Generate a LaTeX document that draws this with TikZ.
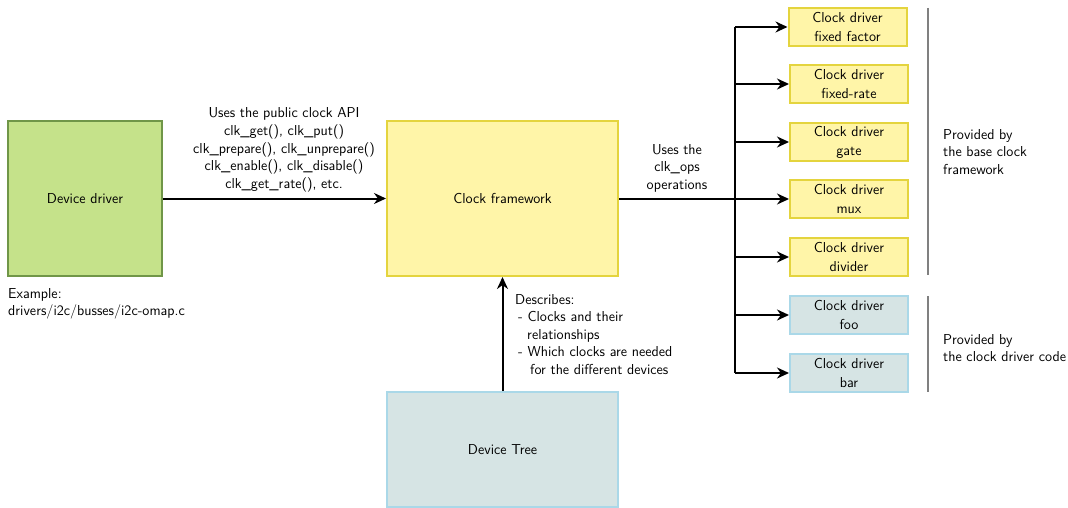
\documentclass[tikz,border=0pt]{standalone}
\usetikzlibrary{arrows.meta}
\definecolor{ddfill}{RGB}{197,226,138}
\definecolor{dddraw}{RGB}{112,150,72}
\definecolor{yfill}{RGB}{255,245,168}
\definecolor{ydraw}{RGB}{228,212,62}
\definecolor{bfill}{RGB}{214,228,228}
\definecolor{bdraw}{RGB}{170,216,232}
\definecolor{sepgray}{RGB}{128,128,128}
\begin{document}
\begin{tikzpicture}[x=1pt,y=-1pt,
  every node/.style={font=\sffamily\fontsize{14.4}{17.6}\selectfont},
  bigbox/.style={draw, line width=2pt, minimum width=154pt, minimum height=155pt, inner sep=0pt},
  cdbox/.style={draw=ydraw, fill=yfill, line width=2pt, minimum width=118pt, minimum height=38pt, inner sep=0pt, align=center, font=\sffamily\fontsize{14.4}{19}\selectfont},
  cdblue/.style={cdbox, draw=bdraw, fill=bfill},
  conn/.style={line width=2pt, -{Stealth[length=12pt,width=11pt]}},
  bus/.style={line width=2pt},
  sep/.style={draw=sepgray, line width=1.4pt},
  lbl/.style={inner sep=0pt}
]
\useasboundingbox (0,0) rectangle (1068,508);
\fill[white] (0,0) rectangle (1068,508);

\node[bigbox, draw=dddraw, fill=ddfill] (dd) at (85,198.5) {Device driver};
\node[bigbox, draw=ydraw, fill=yfill, minimum width=231pt] (cf) at (502.5,198.5) {Clock framework};
\node[bigbox, draw=bdraw, fill=bfill, minimum width=231pt, minimum height=115pt] (dt) at (502.5,449.5) {Device Tree};

\draw[conn] (dd.east) -- (cf.west);
\node[lbl, align=center] (api) at (284,150) {Uses the public clock API\\clk\_get(), clk\_put()\\clk\_prepare(), clk\_unprepare()\\clk\_enable(), clk\_disable()\\clk\_get\_rate(), etc.};

\node[lbl, anchor=north west, align=left] (ex) at (8,288) {Example:\\drivers/i2c/busses/i2c-omap.c};

\draw[conn] (dt.north) -- (cf.south);
\node[lbl, anchor=north west, align=left] (desc) at (515,294) {Describes:\\\hspace*{3pt}- Clocks and their\\\hspace*{12pt}relationships\\\hspace*{3pt}- Which clocks are needed\\\hspace*{15pt}for the different devices};

\node[cdbox] (c1) at (847.5,27) {Clock driver\\fixed factor};
\node[cdbox] (c2) at (849,84) {Clock driver\\fixed-rate};
\node[cdbox] (c3) at (849,142) {Clock driver\\gate};
\node[cdbox] (c4) at (849,199) {Clock driver\\mux};
\node[cdbox] (c5) at (849,257) {Clock driver\\divider};
\node[cdblue] (c6) at (849,315) {Clock driver\\foo};
\node[cdblue] (c7) at (849,373) {Clock driver\\bar};

\coordinate (bj) at (735,199);
\coordinate (btop) at (735,27);
\coordinate (bbot) at (735,373);
\draw[bus] (cf.east |- bj) -- (bj);
\draw[bus] (btop) -- (bbot);
\foreach \n in {c1,c2,c3,c4,c5,c6,c7}{
  \draw[conn] (\n.west -| bj) -- (\n.west);
}
\node[lbl, align=center] (ops) at (677,168) {Uses the\\clk\_ops\\operations};

\coordinate (s1a) at (928,8);
\coordinate (s1b) at (928,275);
\coordinate (s2a) at (928,296);
\coordinate (s2b) at (928,392);
\draw[sep] (s1a) -- (s1b);
\draw[sep] (s2a) -- (s2b);
\node[lbl, anchor=west, align=left] (p1) at (943,152) {Provided by\\the base clock\\framework};
\node[lbl, anchor=west, align=left] (p2) at (943,348) {Provided by\\the clock driver code};
\end{tikzpicture}
\end{document}
